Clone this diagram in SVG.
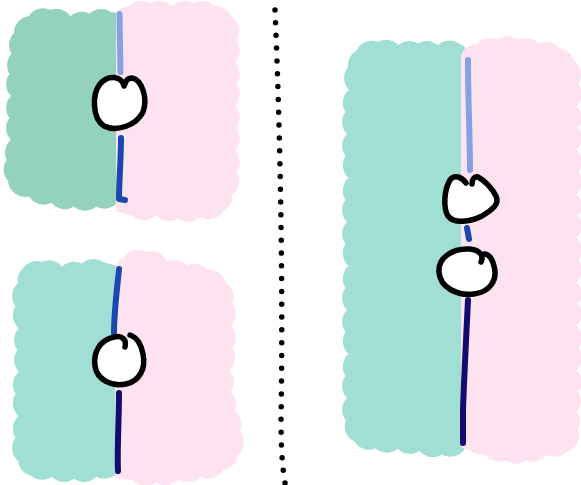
<svg xmlns="http://www.w3.org/2000/svg" width="581" height="485" viewBox="0 0 581 485">
<style>
.g1{fill:#95d2bd;stroke:#95d2bd;stroke-width:4;stroke-linejoin:round}
.g2{fill:#a1dfd4;stroke:#a1dfd4;stroke-width:4;stroke-linejoin:round}
.pk{fill:#fde3f0;stroke:#fde3f0;stroke-width:4;stroke-linejoin:round}
.node{fill:#ffffff;stroke:#000000;stroke-width:5.5;stroke-linecap:round;stroke-linejoin:round}
.ln{fill:none;stroke-width:6;stroke-linecap:round;stroke-linejoin:round}
.lb{stroke:#86a0e6}
.bl{stroke:#1a47b0}
.nv{stroke:#130b6e}
.dots{fill:none;stroke:#000;stroke-width:5.5;stroke-linecap:round;stroke-dasharray:0 1}
</style>
<g id="regions">
<g id="p1-green"><path class="g1" d="M118,15 L118,198 A15,15 0 0 1 96,204 A15,15 0 0 1 74,204 A15,15 0 0 1 52,200 A15,15 0 0 1 30,194 A15,15 0 0 1 10,180 A15,15 0 0 1 9,160 A15,15 0 0 1 14,140 A15,15 0 0 1 12,118 A15,15 0 0 1 14,96 A15,15 0 0 1 12,74 A15,15 0 0 1 14,54 A15,15 0 0 1 16,34 A15,15 0 0 1 30,18 A15,15 0 0 1 50,12 A15,15 0 0 1 70,20 A15,15 0 0 1 90,16 A15,15 0 0 1 110,14 Z"/></g>
<g id="p1-pink"><path class="pk" d="M118,210 L118,14 A15,15 0 0 1 130,8 A15,15 0 0 1 150,6 A15,15 0 0 1 172,10 A15,15 0 0 1 194,6 A15,15 0 0 1 214,8 A15,15 0 0 1 230,18 A15,15 0 0 1 234,40 A15,15 0 0 1 232,62 A15,15 0 0 1 234,84 A15,15 0 0 1 232,106 A15,15 0 0 1 234,128 A15,15 0 0 1 232,150 A15,15 0 0 1 234,172 A15,15 0 0 1 230,194 A15,15 0 0 1 222,210 A15,15 0 0 1 200,214 A15,15 0 0 1 178,216 A15,15 0 0 1 156,212 A15,15 0 0 1 134,214 Z"/></g>
<g id="p2-green"><path class="g2" d="M117,268 L117,470 A15,15 0 0 1 96,474 A15,15 0 0 1 74,476 A15,15 0 0 1 52,474 A15,15 0 0 1 32,474 A15,15 0 0 1 20,460 A15,15 0 0 1 18,438 A15,15 0 0 1 22,416 A15,15 0 0 1 18,394 A15,15 0 0 1 22,372 A15,15 0 0 1 20,350 A15,15 0 0 1 22,328 A15,15 0 0 1 18,306 A15,15 0 0 1 20,284 A15,15 0 0 1 24,270 A15,15 0 0 1 42,264 A15,15 0 0 1 62,270 A15,15 0 0 1 82,266 A15,15 0 0 1 102,264 Z"/></g>
<g id="p2-pink"><path class="pk" d="M117,476 L117,270 A15,15 0 0 1 126,258 A15,15 0 0 1 146,254 A15,15 0 0 1 166,264 A15,15 0 0 1 186,268 A15,15 0 0 1 206,272 A15,15 0 0 1 224,284 A15,15 0 0 1 230,304 A15,15 0 0 1 228,326 A15,15 0 0 1 230,348 A15,15 0 0 1 226,370 A15,15 0 0 1 228,392 A15,15 0 0 1 232,412 A15,15 0 0 1 238,432 A15,15 0 0 1 236,454 A15,15 0 0 1 222,468 A15,15 0 0 1 200,474 A15,15 0 0 1 178,476 A15,15 0 0 1 156,480 A15,15 0 0 1 134,478 Z"/></g>
<g id="p3-green"><path class="g2" d="M463,48 L463,448 A15,15 0 0 1 442,452 A15,15 0 0 1 420,448 A15,15 0 0 1 398,446 A15,15 0 0 1 376,446 A15,15 0 0 1 356,440 A15,15 0 0 1 348,420 A15,15 0 0 1 350,398 A15,15 0 0 1 348,376 A15,15 0 0 1 352,354 A15,15 0 0 1 348,332 A15,15 0 0 1 350,310 A15,15 0 0 1 348,288 A15,15 0 0 1 352,266 A15,15 0 0 1 348,244 A15,15 0 0 1 350,222 A15,15 0 0 1 348,200 A15,15 0 0 1 352,178 A15,15 0 0 1 348,156 A15,15 0 0 1 350,134 A15,15 0 0 1 348,112 A15,15 0 0 1 352,90 A15,15 0 0 1 350,68 A15,15 0 0 1 358,52 A15,15 0 0 1 378,44 A15,15 0 0 1 398,48 A15,15 0 0 1 418,46 A15,15 0 0 1 438,48 A15,15 0 0 1 456,44 Z"/></g>
<g id="p3-pink"><path class="pk" d="M463,446 L463,56 A15,15 0 0 1 478,46 A15,15 0 0 1 498,42 A15,15 0 0 1 518,42 A15,15 0 0 1 538,46 A15,15 0 0 1 558,50 A15,15 0 0 1 572,62 A15,15 0 0 1 576,84 A15,15 0 0 1 574,106 A15,15 0 0 1 576,128 A15,15 0 0 1 574,150 A15,15 0 0 1 576,172 A15,15 0 0 1 574,194 A15,15 0 0 1 576,216 A15,15 0 0 1 574,238 A15,15 0 0 1 576,260 A15,15 0 0 1 574,282 A15,15 0 0 1 576,304 A15,15 0 0 1 574,326 A15,15 0 0 1 576,348 A15,15 0 0 1 574,370 A15,15 0 0 1 576,392 A15,15 0 0 1 574,412 A15,15 0 0 1 576,430 A15,15 0 0 1 566,450 A15,15 0 0 1 546,452 A15,15 0 0 1 526,458 A15,15 0 0 1 506,458 A15,15 0 0 1 486,452 A15,15 0 0 1 470,448 Z"/></g>
</g>
<g id="connectors">
<path class="ln lb" d="M119.5,14 L120.5,72"/>
<path class="ln bl" d="M121,138 C121,160 119,180 119,199 L125,200"/>
<path class="ln bl" d="M119,269 C117,290 114,312 114,333"/>
<path class="ln nv" d="M119,393 C119,420 117,450 118,471"/>
<path class="ln lb" d="M468,60 C468,100 470,140 470,170"/>
<path class="ln bl" d="M467,228 L469,239"/>
<path class="ln nv" d="M468,300 C466,340 464,380 463,410 L463,443"/>
</g>
<g id="divider"><path class="dots" pathLength="37" d="M275,10 C281,150 283,300 281,420 Q281,460 285,483"/></g>
<g id="node-p1"><path class="node" d="M124,86 C122,76 108,74 100,84 C92,94 92,118 104,126 C116,132 136,126 143,112 C148,98 142,80 132,78 C128,78 126,80 125,84"/></g>
<g id="node-p2"><path class="node" d="M125,347 C127,340 122,335 114,337 C100,340 93,352 95,366 C97,380 112,387 126,384 C140,381 146,368 143,354 C141,344 136,337 130,335"/></g>
<g id="node-p3a"><path class="node" d="M466,183 C462,177 454,174 450,180 C444,190 443,208 448,216 C454,224 470,222 482,216 C492,210 500,204 496,196 C492,188 484,180 478,177 C474,176 472,180 472,184"/></g>
<g id="node-p3b"><path class="node" d="M481,262 C484,256 480,250 470,249 C452,248 438,258 439,272 C440,288 458,296 474,294 C490,292 498,280 494,266 C492,258 488,254 484,254"/></g>
</svg>
